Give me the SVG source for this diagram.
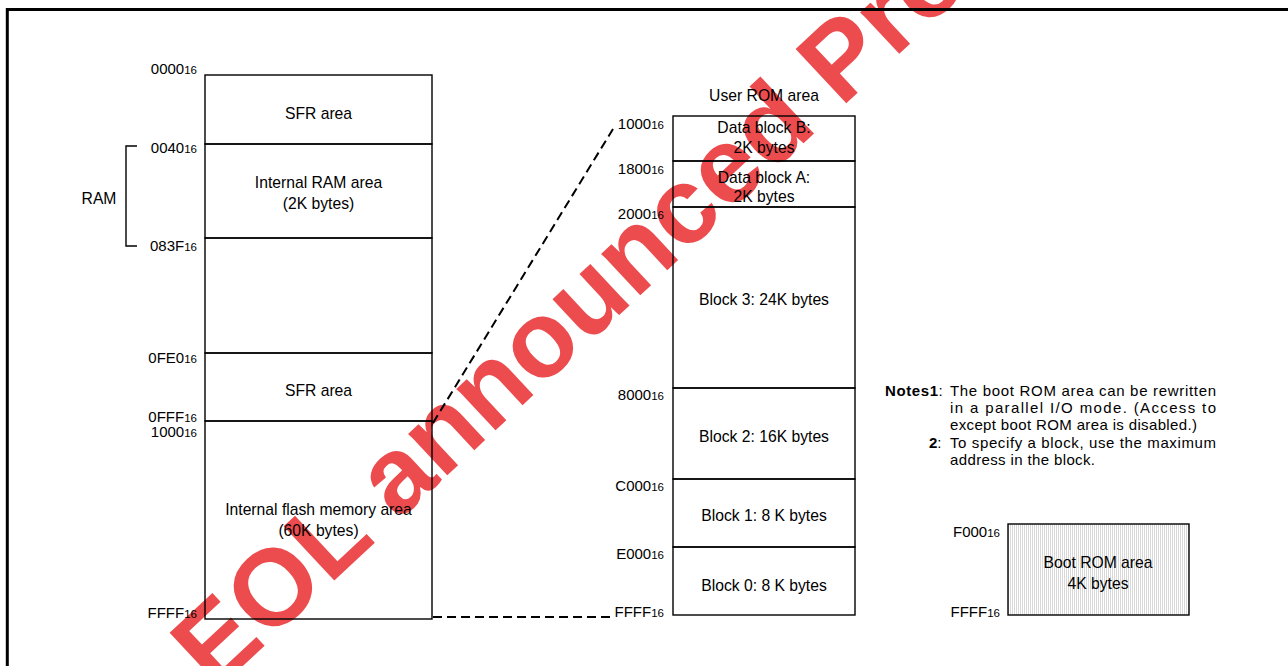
<svg xmlns="http://www.w3.org/2000/svg" width="1288" height="666" viewBox="0 0 1288 666">
<defs>
<style>
.t{font-family:"Liberation Sans",Arial,sans-serif;font-size:15.7px;fill:#000}
.c{text-anchor:middle}
.a{text-anchor:end;font-size:15px}
.s{font-size:11.5px}
.n{font-size:15px}
.b{fill:none;stroke:#000;stroke-width:1.4}
.d{fill:none;stroke:#000;stroke-width:2;stroke-dasharray:9 5}
.wm{font-family:"Liberation Sans",Arial,sans-serif;font-weight:bold;font-size:108px;fill:#ea2d30;opacity:0.85}
</style>
<pattern id="dots" width="2" height="2" patternUnits="userSpaceOnUse"><rect width="2" height="2" fill="#fff"/><rect width="1" height="2" fill="#d8d8d8"/></pattern>
</defs>
<rect width="1288" height="666" fill="#fff"/>
<g id="watermark">
<text class="wm" transform="translate(215,692) rotate(-43)">EOL announced Product</text>
</g>
<g id="frame">
<line x1="6" y1="9.5" x2="1288" y2="9.5" stroke="#000" stroke-width="3"/>
<line x1="7.3" y1="8" x2="7.3" y2="666" stroke="#000" stroke-width="3"/>
</g>
<g id="connectors">
<line class="d" x1="433" y1="423" x2="613" y2="129"/>
<line class="d" x1="433" y1="617" x2="611" y2="617"/>
<polyline class="b" points="137,146 126,146 126,246 137,246"/>
</g>
<g id="ram-label"><text class="t c" x="99" y="204">RAM</text></g>
<g id="left-sfr1"><rect class="b" x="205" y="75" width="227" height="69"/><text class="t c" x="318.5" y="119">SFR area</text></g>
<g id="left-ram"><rect class="b" x="205" y="144" width="227" height="94"/><text class="t c" x="318.5" y="188">Internal RAM area</text><text class="t c" x="318.5" y="209">(2K bytes)</text></g>
<g id="left-blank"><rect class="b" x="205" y="238" width="227" height="115"/></g>
<g id="left-sfr2"><rect class="b" x="205" y="353" width="227" height="68"/><text class="t c" x="318.5" y="396">SFR area</text></g>
<g id="left-flash"><rect class="b" x="205" y="421" width="227" height="198"/><text class="t c" x="318.5" y="515">Internal flash memory area</text><text class="t c" x="318.5" y="536">(60K bytes)</text></g>
<g id="left-addresses">
<text class="t a" x="197" y="74">0000<tspan class="s">16</tspan></text>
<text class="t a" x="197" y="153">0040<tspan class="s">16</tspan></text>
<text class="t a" x="197" y="251">083F<tspan class="s">16</tspan></text>
<text class="t a" x="197" y="363">0FE0<tspan class="s">16</tspan></text>
<text class="t a" x="197" y="422">0FFF<tspan class="s">16</tspan></text>
<text class="t a" x="197" y="437">1000<tspan class="s">16</tspan></text>
<text class="t a" x="197" y="618">FFFF<tspan class="s">16</tspan></text>
</g>
<g id="user-rom-title"><text class="t c" x="764" y="101">User ROM area</text></g>
<g id="data-block-b"><rect class="b" x="673" y="116" width="182" height="45"/><text class="t c" x="764" y="133">Data block B:</text><text class="t c" x="764" y="153">2K bytes</text></g>
<g id="data-block-a"><rect class="b" x="673" y="161" width="182" height="46"/><text class="t c" x="764" y="183">Data block A:</text><text class="t c" x="764" y="202">2K bytes</text></g>
<g id="block-3"><rect class="b" x="673" y="207" width="182" height="181"/><text class="t c" x="764" y="305">Block 3: 24K bytes</text></g>
<g id="block-2"><rect class="b" x="673" y="388" width="182" height="91"/><text class="t c" x="764" y="442">Block 2: 16K bytes</text></g>
<g id="block-1"><rect class="b" x="673" y="479" width="182" height="68"/><text class="t c" x="764" y="521">Block 1: 8 K bytes</text></g>
<g id="block-0"><rect class="b" x="673" y="547" width="182" height="68"/><text class="t c" x="764" y="591">Block 0: 8 K bytes</text></g>
<g id="right-addresses">
<text class="t a" x="664" y="129">1000<tspan class="s">16</tspan></text>
<text class="t a" x="664" y="174">1800<tspan class="s">16</tspan></text>
<text class="t a" x="664" y="219">2000<tspan class="s">16</tspan></text>
<text class="t a" x="664" y="400">8000<tspan class="s">16</tspan></text>
<text class="t a" x="664" y="491">C000<tspan class="s">16</tspan></text>
<text class="t a" x="664" y="559">E000<tspan class="s">16</tspan></text>
<text class="t a" x="664" y="617">FFFF<tspan class="s">16</tspan></text>
</g>
<g id="notes">
<text class="t n" x="885" y="396"><tspan font-weight="bold" textLength="53">Notes1</tspan>:</text>
<text class="t n" x="950" y="396" textLength="266" lengthAdjust="spacing">The boot ROM area can be rewritten</text>
<text class="t n" x="950" y="413" textLength="266" lengthAdjust="spacing">in a parallel I/O mode. (Access to</text>
<text class="t n" x="950" y="430" textLength="247" lengthAdjust="spacing">except boot ROM area is disabled.)</text>
<text class="t n" x="929" y="448"><tspan font-weight="bold">2</tspan>:</text>
<text class="t n" x="950" y="448" textLength="266" lengthAdjust="spacing">To specify a block, use the maximum</text>
<text class="t n" x="950" y="465" textLength="145" lengthAdjust="spacing">address in the block.</text>
</g>
<g id="boot-rom"><rect x="1008" y="524" width="181" height="91" fill="url(#dots)" stroke="#000" stroke-width="1.4"/><text class="t c" x="1098" y="568">Boot ROM area</text><text class="t c" x="1098" y="589">4K bytes</text>
<text class="t a" x="1000" y="537">F000<tspan class="s">16</tspan></text>
<text class="t a" x="1000" y="617">FFFF<tspan class="s">16</tspan></text>
</g>
</svg>
